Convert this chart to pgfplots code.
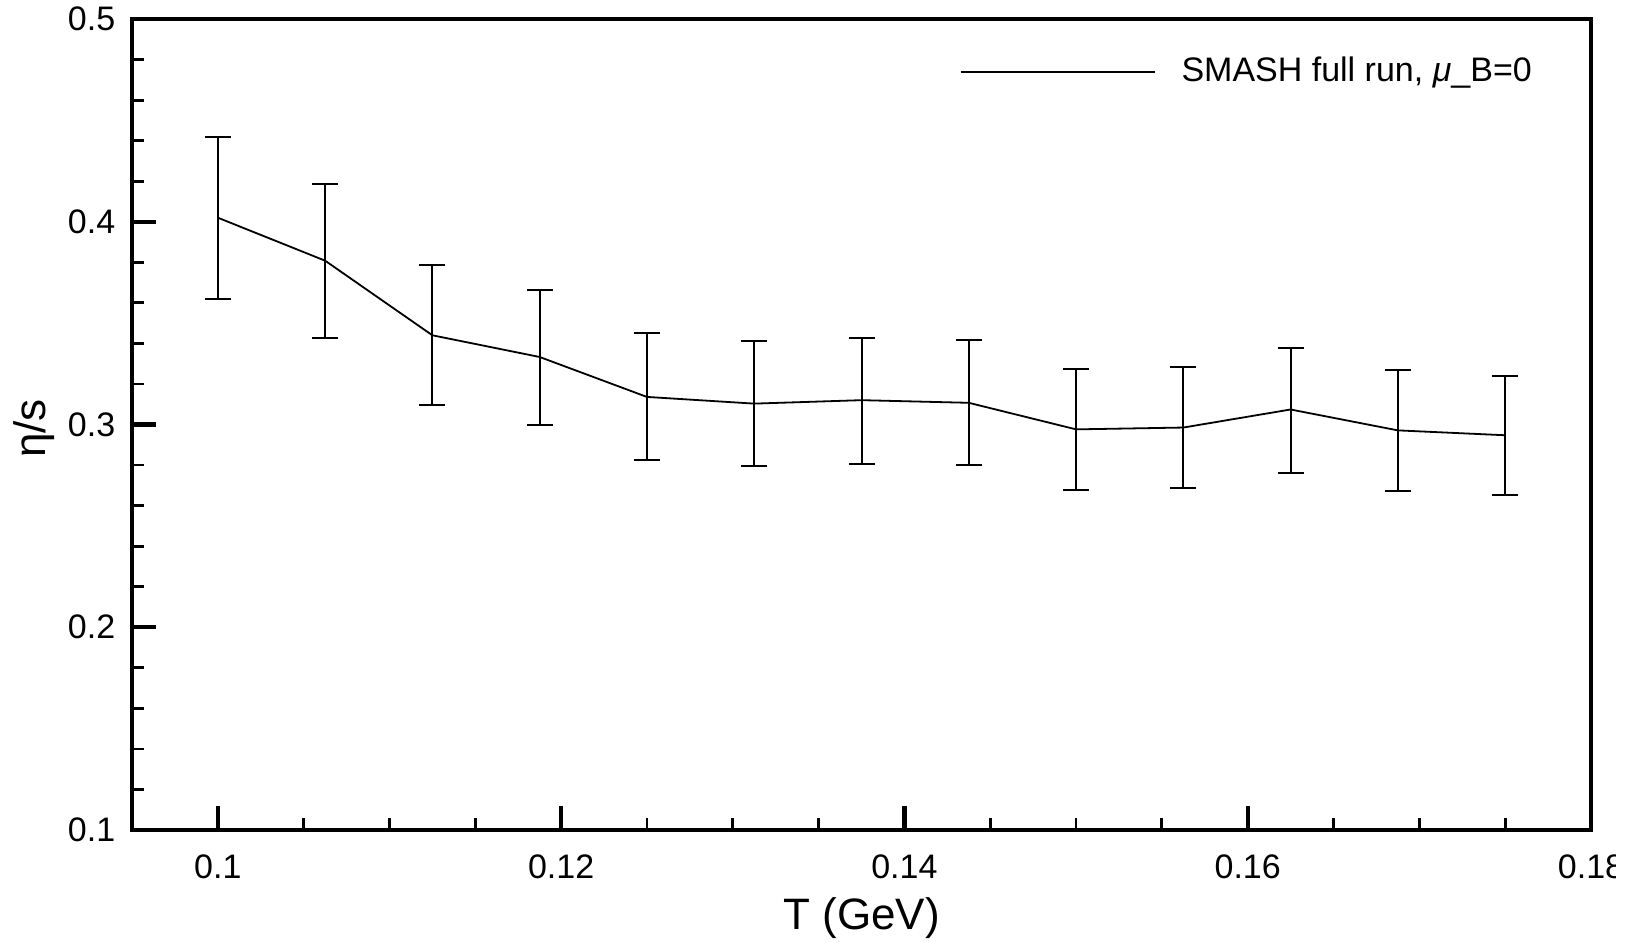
\documentclass[border=0pt]{standalone}
\usepackage{fontspec}
\setmainfont{Liberation Sans}
\usepackage{pgfplots}
\pgfplotsset{compat=1.18}
\begin{document}
\begin{tikzpicture}
\path[use as bounding box] (-33pt,-27.75pt) rectangle (375.25pt,207.5pt);
\clip (-33pt,-27.75pt) rectangle (370.75pt,207.5pt);
\begin{axis}[
  name=ax,
  scale only axis,
  width=364.75pt, height=202.75pt,
  xmin=0.095, xmax=0.18, ymin=0.1, ymax=0.5,
  xtick={0.1,0.12,0.14,0.16,0.18},
  xticklabels={0.1,0.12,0.14,0.16,0.18},
  ytick={0.1,0.2,0.3,0.4,0.5},
  yticklabels={0.1,0.2,0.3,0.4,0.5},
  minor x tick num=3,
  minor y tick num=4,
  tick align=inside,
  xtick pos=bottom, ytick pos=left,
  major tick length=6pt, minor tick length=3pt,
  major tick style={line width=1.1pt, black},
  minor tick style={line width=0.7pt, black},
  axis line style={line width=0.9pt, black},
  ticklabel style={font=\fontsize{8.5}{10}\selectfont, inner sep=0pt},
  yticklabel style={xshift=-4pt},
  xticklabel style={yshift=-6pt},
  xlabel={T (GeV)},
  ylabel={η/s},
  label style={font=\fontsize{11}{13}\selectfont, inner sep=0pt},
  xlabel style={at={(axis description cs:0.5,0)}, anchor=north, yshift=-16.75pt},
  ylabel style={at={(axis description cs:0,0.5)}, anchor=south, yshift=19.25pt, xshift=-1pt},
  legend style={draw=none, fill=none, at={(axis description cs:1,1)}, anchor=east,
    xshift=-11.6pt, yshift=-13.3pt, font=\fontsize{8.5}{10}\selectfont,
    nodes={inner sep=0pt}},
  legend cell align=left,
  legend image code/.code={\draw[#1] (0pt,0pt) -- (48.5pt,0pt); \path (55pt,0pt);},
]
\addplot[black, line width=0.45pt, mark=none,
  error bars/.cd, y dir=both, y explicit,
  error bar style={line width=0.5pt, black},
  error mark options={rotate=90, mark size=3.25pt, line width=0.5pt, black}]
  table[x=T, y=eta, y error plus=ep, y error minus=em] {
T        eta     ep      em
0.1      0.4020  0.0400  0.0403
0.10625  0.3808  0.0379  0.0381
0.1125   0.3440  0.0346  0.0343
0.11875  0.3333  0.0331  0.0333
0.125    0.3136  0.0314  0.0313
0.13125  0.3103  0.0311  0.0308
0.1375   0.3120  0.0309  0.0313
0.14375  0.3107  0.0312  0.0309
0.15     0.2976  0.0297  0.0297
0.15625  0.2985  0.0298  0.0299
0.1625   0.3074  0.0302  0.0311
0.16875  0.2971  0.0297  0.0297
0.175    0.2947  0.0293  0.0294
};
\addlegendentry{SMASH full run, \textit{μ}\_B=0}
\end{axis}
\end{tikzpicture}
\end{document}
